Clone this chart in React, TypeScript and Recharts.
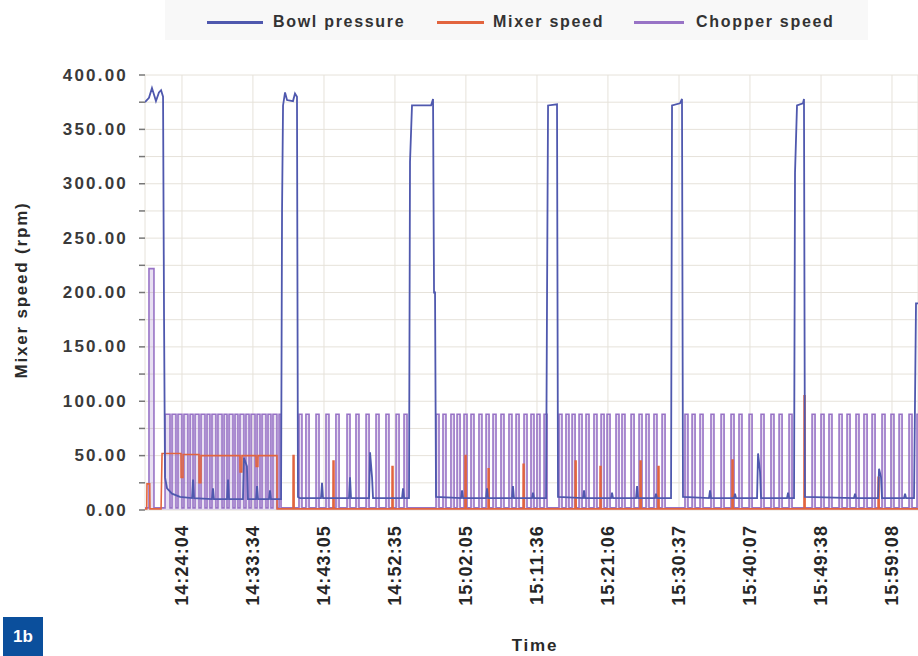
import React from 'react';
import { ComposedChart, Line, Area, XAxis, YAxis, CartesianGrid } from 'recharts';

// time values: seconds since 14:00:00
const timeTicks = [1444, 2014, 2585, 3155, 3725, 4296, 4866, 5437, 6007, 6578, 7148];
const timeDomain = [1147, 7357];
const yTicks = [0, 25, 50, 75, 100, 125, 150, 175, 200, 225, 250, 275, 300, 325, 350, 375, 400];

const seriesNames = ['Bowl pressure', 'Mixer speed', 'Chopper speed'];

// [time, value]
const bowlPressure: [number, number][] = [
  [1147, 375], [1179, 379], [1203, 388], [1219, 382], [1235, 376], [1259, 384], [1276, 386], [1292, 380], [1300, 176], [1308, 30], [1324, 20], [1364, 15], [1428, 12], [1525, 11], [1533, 28], [1541, 11],
  [1685, 10], [1693, 20], [1701, 10],
  [1806, 10], [1814, 28], [1822, 10],
  [1934, 10], [1942, 48], [1966, 40], [1974, 10],
  [2039, 10], [2047, 22], [2055, 10],
  [2143, 10], [2151, 18], [2159, 10],
  [2240, 10], [2248, 276], [2256, 372], [2272, 384], [2288, 377], [2336, 376], [2352, 383], [2368, 380], [2376, 12],
  [2392, 11], [2561, 11], [2569, 25], [2577, 11],
  [2786, 11], [2794, 30], [2802, 11],
  [2947, 11], [2955, 53], [2971, 30], [2979, 11],
  [3212, 11], [3220, 20], [3228, 11],
  [3268, 11], [3276, 320], [3292, 372], [3445, 372], [3461, 378], [3469, 200], [3477, 200], [3485, 12],
  [3686, 11], [3694, 18], [3702, 11],
  [3887, 11], [3895, 20], [3903, 11],
  [4095, 11], [4103, 22], [4111, 11],
  [4256, 11], [4264, 16], [4272, 11],
  [4369, 11], [4377, 200], [4385, 372], [4457, 373], [4465, 12],
  [4666, 11], [4674, 18], [4682, 11],
  [4891, 11], [4899, 16], [4907, 11],
  [5092, 11], [5100, 22], [5108, 11],
  [5244, 11], [5252, 15], [5260, 11],
  [5373, 11], [5381, 372], [5445, 374], [5461, 378], [5469, 12],
  [5678, 11], [5686, 18], [5694, 11],
  [5879, 11], [5887, 15], [5895, 11],
  [6064, 11], [6072, 52], [6088, 35], [6096, 11],
  [6305, 11], [6313, 16], [6321, 11],
  [6361, 11], [6369, 310], [6385, 372], [6433, 374], [6441, 378], [6449, 12],
  [6843, 11], [6851, 15], [6859, 11],
  [7036, 11], [7044, 38], [7060, 30], [7068, 11],
  [7245, 11], [7253, 15], [7261, 11],
  [7325, 11], [7341, 190], [7357, 190],
];

// [time, value]
const mixerSpeed: [number, number][] = [
  [1147, 1], [1161, 1], [1163, 24], [1185, 24], [1187, 1],
  [1276, 1], [1284, 52], [1436, 52], [1437, 30], [1452, 30], [1453, 51],
  [1581, 51], [1582, 25], [1596, 25], [1597, 50],
  [1910, 50], [1911, 35], [1925, 35], [1926, 50],
  [2039, 50], [2040, 40], [2054, 40], [2055, 50],
  [2207, 50], [2208, 1],
  [2336, 1], [2337, 50], [2344, 50], [2345, 1],
  [2657, 1], [2658, 45], [2665, 45], [2666, 1],
  [3131, 1], [3132, 40], [3139, 40], [3140, 1],
  [3718, 1], [3719, 50], [3726, 50], [3727, 1],
  [3903, 1], [3904, 38], [3911, 38], [3912, 1],
  [4184, 1], [4185, 42], [4192, 42], [4193, 1],
  [4602, 1], [4603, 45], [4610, 45], [4611, 1],
  [4802, 1], [4803, 40], [4810, 40], [4811, 1],
  [5124, 1], [5125, 45], [5132, 45], [5133, 1],
  [5268, 1], [5269, 40], [5276, 40], [5277, 1],
  [5863, 1], [5864, 46], [5871, 46], [5872, 1],
  [6441, 1], [6442, 105], [6449, 105], [6450, 1],
  [7036, 1], [7037, 30], [7044, 30], [7045, 1],
  [7357, 1],
];

// chopper pulses: [start, end, level]
const chopperIdle = 2;
const chopperPulses: [number, number, number][] = [
  [1179, 1219, 222],
  [1308, 1348, 88], [1364, 1396, 88], [1412, 1444, 88], [1460, 1492, 88], [1509, 1533, 88], [1549, 1581, 88], [1597, 1629, 88], [1645, 1669, 88], [1685, 1717, 88], [1733, 1766, 88], [1782, 1806, 88], [1822, 1854, 88], [1870, 1894, 88], [1910, 1942, 88], [1958, 1983, 88], [1999, 2031, 88], [2047, 2071, 88], [2087, 2119, 88], [2135, 2159, 88], [2175, 2207, 88], [2224, 2240, 88],
  [2384, 2408, 88], [2440, 2465, 88], [2521, 2545, 88], [2601, 2625, 88], [2681, 2706, 88], [2770, 2794, 88], [2842, 2866, 88], [2923, 2947, 88], [3003, 3027, 88], [3083, 3107, 88], [3164, 3188, 88], [3228, 3252, 88],
  [3485, 3509, 88], [3541, 3565, 88], [3605, 3630, 88], [3654, 3678, 88], [3710, 3734, 88], [3766, 3790, 88], [3830, 3854, 88], [3887, 3911, 88], [3943, 3967, 88], [4007, 4031, 88], [4071, 4095, 88], [4128, 4152, 88], [4192, 4216, 88], [4248, 4272, 88], [4296, 4320, 88], [4353, 4377, 88],
  [4473, 4497, 88], [4529, 4553, 88], [4578, 4602, 88], [4634, 4658, 88], [4690, 4714, 88], [4754, 4778, 88], [4811, 4835, 88], [4859, 4883, 88], [4931, 4955, 88], [4979, 5003, 88], [5052, 5076, 88], [5116, 5140, 88], [5172, 5196, 88], [5236, 5260, 88], [5301, 5325, 88],
  [5485, 5509, 88], [5542, 5566, 88], [5606, 5630, 88], [5694, 5718, 88], [5775, 5799, 88], [5855, 5879, 88], [5919, 5943, 88], [6000, 6024, 88], [6096, 6120, 88], [6176, 6200, 88], [6241, 6265, 88], [6321, 6345, 88],
  [6506, 6530, 88], [6578, 6602, 88], [6642, 6666, 88], [6723, 6747, 88], [6787, 6811, 88], [6859, 6883, 88], [6923, 6948, 88], [6988, 7012, 88], [7068, 7092, 88], [7140, 7164, 88], [7205, 7229, 88], [7285, 7309, 88], [7349, 7373, 88],
];

const toPoints = (arr: [number, number][]) => arr.map(([t, v]) => ({ t, v }));

const chopperPoints = (() => {
  const pts: { t: number; v: number }[] = [{ t: timeDomain[0], v: chopperIdle }];
  chopperPulses.forEach(([s, e, lvl]) => {
    pts.push({ t: s, v: chopperIdle }, { t: s, v: lvl }, { t: e, v: lvl }, { t: e, v: chopperIdle });
  });
  pts.push({ t: timeDomain[1], v: chopperIdle });
  return pts;
})();

const COLORS = { bowl: '#4f58ae', mixer: '#e2643e', chopper: '#9873c6' };
const FONT = '"Liberation Sans", Arial, sans-serif';

const pad = (n: number) => String(n).padStart(2, '0');
const formatTime = (t: number) => {
  const total = 14 * 3600 + Math.round(t);
  const h = Math.floor(total / 3600);
  const m = Math.floor((total % 3600) / 60);
  const s = total % 60;
  return `${h}:${pad(m)}:${pad(s)}`;
};

const XTick = (props: any) => {
  const { x, y, payload } = props;
  return (
    <text
      x={x}
      y={y}
      transform={`rotate(-90, ${x}, ${y})`}
      textAnchor="end"
      dominantBaseline="central"
      fontFamily={FONT}
      fontWeight="bold"
      fontSize={18}
      letterSpacing={1.1}
      fill="#262626"
    >
      {formatTime(payload.value)}
    </text>
  );
};

const YTick = (props: any) => {
  const { x, y, payload } = props;
  if (payload.value % 50 !== 0) return <g />;
  return (
    <text
      x={x}
      y={y}
      textAnchor="end"
      dominantBaseline="central"
      fontFamily={FONT}
      fontWeight="bold"
      fontSize={17}
      letterSpacing={2.2}
      fill="#3a3a3a"
    >
      {payload.value.toFixed(2)}
    </text>
  );
};

const legendItems = [
  { name: seriesNames[0], color: COLORS.bowl, lineX: 207, lineW: 56, textX: 273 },
  { name: seriesNames[1], color: COLORS.mixer, lineX: 437, lineW: 47, textX: 493 },
  { name: seriesNames[2], color: COLORS.chopper, lineX: 634, lineW: 50, textX: 696 },
];

export default function App() {
  return (
    <div style={{ position: 'absolute', left: 0, top: 0, width: 918, height: 656, background: '#fff', overflow: 'hidden', fontFamily: FONT }}>
      <div style={{ position: 'absolute', left: 165, top: 0, width: 703, height: 40, background: '#f8f8f8' }} />
      {legendItems.map((it) => (
        <React.Fragment key={it.name}>
          <div style={{ position: 'absolute', left: it.lineX, top: 21, width: it.lineW, height: 3, background: it.color }} />
          <div style={{ position: 'absolute', left: it.textX, top: 12, fontSize: 16, fontWeight: 'bold', letterSpacing: 1.7, color: '#333', whiteSpace: 'nowrap', lineHeight: '20px' }}>
            {it.name}
          </div>
        </React.Fragment>
      ))}
      <ComposedChart width={918} height={656} margin={{ top: 75, right: 0, bottom: 0, left: 0 }}>
        <CartesianGrid stroke="#e6e2da" strokeWidth={1} />
        <XAxis
          dataKey="t"
          type="number"
          domain={timeDomain}
          ticks={timeTicks}
          allowDataOverflow
          height={146}
          axisLine={false}
          tickLine={false}
          tickSize={0}
          tickMargin={15}
          tick={<XTick />}
          interval={0}
        />
        <YAxis
          type="number"
          domain={[0, 400]}
          ticks={yTicks}
          width={145}
          axisLine={false}
          tickLine={{ stroke: '#777', strokeWidth: 1.5 }}
          tickSize={6}
          tickMargin={11}
          tick={<YTick />}
          interval={0}
          allowDataOverflow
        />
        <Area data={chopperPoints} dataKey="v" type="linear" stroke={COLORS.chopper} strokeWidth={1.6} fill={COLORS.chopper} fillOpacity={0.22} dot={false} activeDot={false} isAnimationActive={false} name={seriesNames[2]} />
        <Line data={toPoints(mixerSpeed)} dataKey="v" type="linear" stroke={COLORS.mixer} strokeWidth={1.6} dot={false} isAnimationActive={false} name={seriesNames[1]} />
        <Line data={toPoints(bowlPressure)} dataKey="v" type="linear" stroke={COLORS.bowl} strokeWidth={1.8} dot={false} isAnimationActive={false} name={seriesNames[0]} />
      </ComposedChart>
      <div style={{ position: 'absolute', left: 22, top: 290, transform: 'translate(-50%, -50%) rotate(-90deg)', fontSize: 17, fontWeight: 'bold', letterSpacing: 1.8, color: '#2a2a2a', whiteSpace: 'nowrap' }}>
        Mixer speed (rpm)
      </div>
      <div style={{ position: 'absolute', left: 535, top: 646, transform: 'translate(-50%, -50%)', fontSize: 17, fontWeight: 'bold', letterSpacing: 1.8, color: '#2a2a2a', whiteSpace: 'nowrap' }}>
        Time
      </div>
      <div style={{ position: 'absolute', left: 3, top: 617, width: 40, height: 39, background: '#0b4f9c', color: '#fff', fontSize: 17, fontWeight: 'bold', display: 'flex', alignItems: 'center', justifyContent: 'center' }}>
        1b
      </div>
    </div>
  );
}
